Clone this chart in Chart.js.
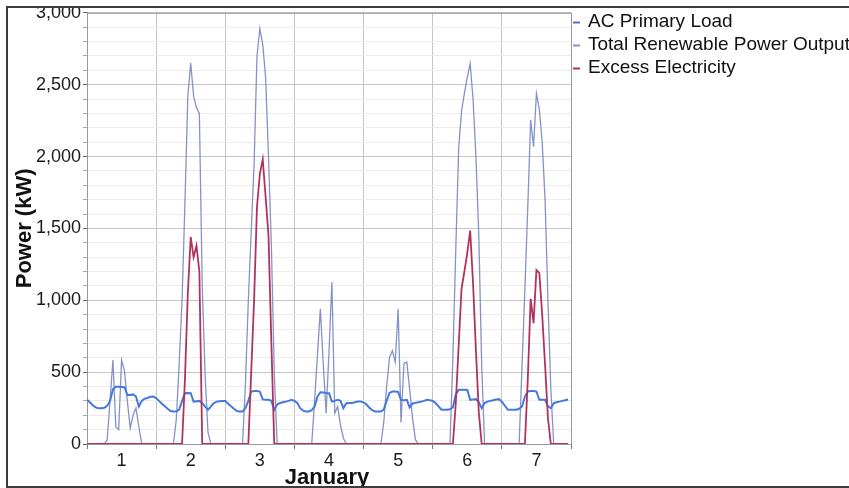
<!DOCTYPE html>
<html>
<head>
<meta charset="utf-8">
<script src="https://cdn.jsdelivr.net/npm/chart.js@4.4.1/dist/chart.umd.min.js"></script>
<style>
  html, body { margin: 0; padding: 0; background: #fff; }
  canvas { display: block; }
</style>
</head>
<body>
<canvas id="powerChart" width="849" height="488"></canvas>
<script>
// 一周逐时数据 (January 1-7, hour 0..167)
const hours = Array.from({ length: 168 }, (_, i) => i);
const dayLabels = ['1', '2', '3', '4', '5', '6', '7'];
const seriesNames = ['AC Primary Load', 'Total Renewable Power Output', 'Excess Electricity'];

const acPrimaryLoad = [
    307, 290, 270, 255, 249, 249, 252, 265, 300, 380, 399, 399, 397, 395, 341, 341, 345, 330, 261, 300, 315, 320, 328, 330,
    320, 300, 280, 262, 245, 230, 226, 226, 240, 300, 353, 355, 353, 295, 298, 300, 284, 260, 238, 260, 285, 295, 298, 300,
    300, 280, 262, 245, 230, 226, 226, 250, 300, 365, 368, 368, 365, 310, 307, 307, 300, 238, 275, 285, 290, 295, 300, 307,
    300, 285, 249, 232, 226, 226, 235, 261, 330, 360, 358, 355, 353, 295, 300, 307, 300, 249, 284, 286, 286, 290, 295, 295,
    290, 275, 252, 235, 226, 226, 226, 240, 300, 355, 365, 365, 362, 307, 305, 307, 255, 282, 286, 290, 295, 300, 307, 305,
    300, 285, 262, 240, 238, 238, 242, 255, 345, 376, 378, 378, 376, 307, 310, 312, 290, 249, 285, 295, 300, 305, 310, 312,
    295, 268, 240, 238, 238, 238, 245, 261, 330, 365, 368, 368, 365, 307, 307, 307, 262, 249, 284, 290, 295, 300, 305, 310
];

const renewableOutput = [
    0, 0, 0, 0, 0, 0, 0, 30, 300, 584, 120, 100, 584, 510, 300, 110, 200, 250, 120, 0, 0, 0, 0, 0,
    0, 0, 0, 0, 0, 0, 0, 170, 560, 1000, 1680, 2420, 2650, 2420, 2340, 2300, 1100, 480, 80, 0, 0, 0, 0, 0,
    0, 0, 0, 0, 0, 0, 0, 420, 1000, 1480, 1950, 2700, 2890, 2780, 2550, 2000, 1380, 500, 0, 0, 0, 0, 0, 0,
    0, 0, 0, 0, 0, 0, 0, 300, 620, 940, 560, 214, 640, 1127, 214, 260, 130, 40, 0, 0, 0, 0, 0, 0,
    0, 0, 0, 0, 0, 0, 0, 150, 400, 600, 650, 570, 940, 150, 560, 570, 380, 180, 30, 0, 0, 0, 0, 0,
    0, 0, 0, 0, 0, 0, 0, 600, 1350, 2050, 2316, 2440, 2550, 2647, 2400, 2000, 1450, 550, 0, 0, 0, 0, 0, 0,
    0, 0, 0, 0, 0, 0, 0, 540, 1080, 1650, 2254, 2069, 2439, 2330, 2100, 1700, 1000, 380, 0, 0, 0, 0, 0, 0
];

const excessElectricity = [
    0, 0, 0, 0, 0, 0, 0, 0, 0, 0, 0, 0, 0, 0, 0, 0, 0, 0, 0, 0, 0, 0, 0, 0,
    0, 0, 0, 0, 0, 0, 0, 0, 0, 0, 450, 1050, 1440, 1300, 1380, 1200, 0, 0, 0, 0, 0, 0, 0, 0,
    0, 0, 0, 0, 0, 0, 0, 0, 0, 500, 1000, 1650, 1880, 1980, 1720, 1450, 700, 0, 0, 0, 0, 0, 0, 0,
    0, 0, 0, 0, 0, 0, 0, 0, 0, 0, 0, 0, 0, 0, 0, 0, 0, 0, 0, 0, 0, 0, 0, 0,
    0, 0, 0, 0, 0, 0, 0, 0, 0, 0, 0, 0, 0, 0, 0, 0, 0, 0, 0, 0, 0, 0, 0, 0,
    0, 0, 0, 0, 0, 0, 0, 0, 280, 680, 1080, 1200, 1330, 1485, 1120, 650, 220, 0, 0, 0, 0, 0, 0, 0,
    0, 0, 0, 0, 0, 0, 0, 0, 0, 450, 1010, 840, 1210, 1190, 900, 550, 180, 0, 0, 0, 0, 0, 0, 0
];

const seriesColors = ['#4677dc', '#8592c9', '#b2325e'];

Chart.defaults.font.family = '"Liberation Sans", Arial, sans-serif';
Chart.defaults.color = '#1a1a1a';

// 图例、坐标轴标题和外框
const decorPlugin = {
    id: 'decor',
    beforeDatasetsDraw(chart) {
        const { ctx, chartArea: a } = chart;
        ctx.save();
        ctx.strokeStyle = '#9a9a9a';
        ctx.lineWidth = 1;
        ctx.strokeRect(a.left + 0.5, a.top + 0.5, a.right - a.left, a.bottom - a.top);
        ctx.restore();
    },
    afterDraw(chart) {
        const { ctx, chartArea: a } = chart;
        ctx.save();

        // legend
        ctx.font = '19px "Liberation Sans", Arial, sans-serif';
        ctx.textAlign = 'left';
        ctx.textBaseline = 'middle';
        seriesNames.forEach((name, i) => {
            const y = 22 + i * 23;
            ctx.strokeStyle = seriesColors[i];
            ctx.lineWidth = 2;
            ctx.beginPath();
            ctx.moveTo(573, y + 0.5);
            ctx.lineTo(580, y + 0.5);
            ctx.stroke();
            ctx.fillStyle = '#111';
            ctx.fillText(name, 588, y);
        });

        // axis titles
        ctx.fillStyle = '#111';
        ctx.font = 'bold 22px "Liberation Sans", Arial, sans-serif';
        ctx.textAlign = 'center';
        ctx.textBaseline = 'alphabetic';
        ctx.fillText('January', (a.left + a.right) / 2 - 2, 484);
        ctx.save();
        ctx.translate(31, (a.top + a.bottom) / 2);
        ctx.rotate(-Math.PI / 2);
        ctx.fillText('Power (kW)', 0, 0);
        ctx.restore();

        // outer frame
        ctx.fillStyle = '#fff';
        ctx.fillRect(0, 0, chart.width, 7);
        ctx.strokeStyle = '#3c3c3c';
        ctx.lineWidth = 2;
        ctx.beginPath();
        ctx.moveTo(chart.width, 7);
        ctx.lineTo(7, 7);
        ctx.lineTo(7, 487);
        ctx.lineTo(chart.width, 487);
        ctx.stroke();
        ctx.restore();
    }
};

const powerChart = new Chart(document.getElementById('powerChart'), {
    type: 'line',
    data: {
        labels: hours,
        datasets: [{
            label: seriesNames[0],
            data: acPrimaryLoad,
            borderColor: seriesColors[0],
            borderWidth: 2,
            order: 1
        }, {
            label: seriesNames[1],
            data: renewableOutput,
            borderColor: seriesColors[1],
            borderWidth: 1.3,
            order: 2
        }, {
            label: seriesNames[2],
            data: excessElectricity,
            borderColor: seriesColors[2],
            borderWidth: 1.8,
            order: 0
        }]
    },
    options: {
        responsive: false,
        animation: false,
        devicePixelRatio: 1,
        layout: { padding: { left: 0, top: 12, right: 278, bottom: 0 } },
        elements: {
            point: { radius: 0 },
            line: { tension: 0 }
        },
        plugins: {
            legend: { display: false },
            tooltip: { enabled: false }
        },
        scales: {
            x: {
                type: 'linear',
                min: 0,
                max: 168,
                afterFit: (scale) => { scale.height = 44; },
                border: { display: true, color: '#8a8a8a' },
                grid: {
                    color: (c) => (c.tick && c.tick.value % 24 === 0 && c.tick.value > 0 && c.tick.value < 168) ? '#c4c4c4' : 'rgba(0,0,0,0)',
                    tickColor: (c) => (c.tick && c.tick.value % 24 === 0) ? '#777' : 'rgba(0,0,0,0)',
                    tickLength: 5
                },
                ticks: {
                    stepSize: 12,
                    autoSkip: false,
                    maxRotation: 0,
                    padding: 1,
                    font: { size: 18 },
                    callback: (v) => v % 24 === 12 ? dayLabels[(v - 12) / 24] : ''
                }
            },
            y: {
                min: 0,
                max: 3000,
                afterFit: (scale) => { scale.width = 87; },
                border: { display: true, color: '#8a8a8a' },
                grid: {
                    color: (c) => (c.tick && c.tick.value % 500 === 0) ? '#c4c4c4' : '#ececec',
                    tickColor: (c) => (c.tick && c.tick.value % 500 === 0) ? '#666' : '#aaa',
                    tickLength: 4
                },
                ticks: {
                    stepSize: 100,
                    autoSkip: false,
                    padding: 2,
                    font: { size: 18 },
                    callback: (v) => v % 500 === 0 ? v.toLocaleString('en-US') : ''
                }
            }
        }
    },
    plugins: [decorPlugin]
});
</script>
</body>
</html>
